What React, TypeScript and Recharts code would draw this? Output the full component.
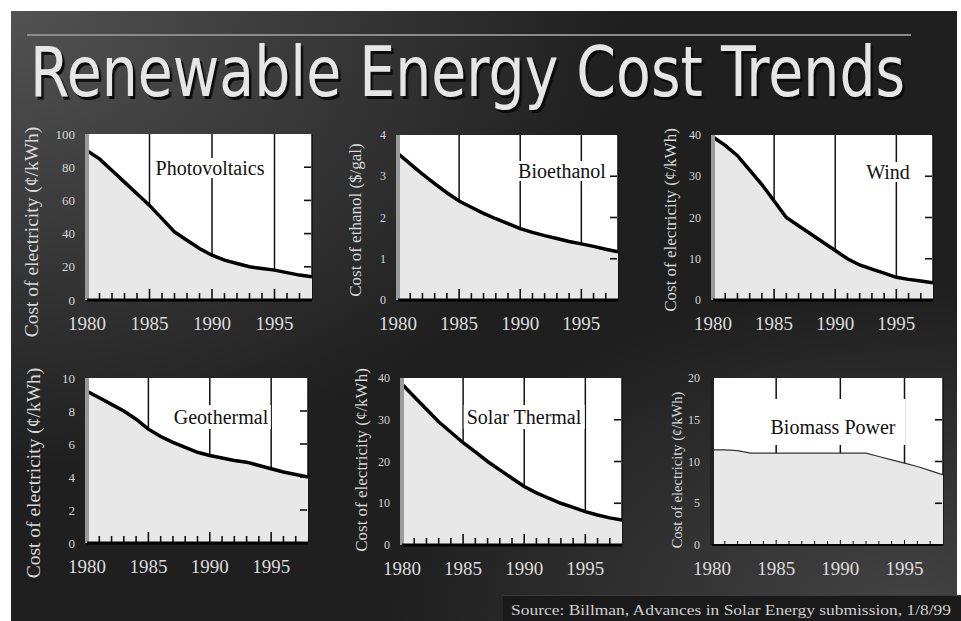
import { ComposedChart, Area, XAxis, YAxis, CartesianGrid } from "recharts";

const YEARS = [1980, 1981, 1982, 1983, 1984, 1985, 1986, 1987, 1988, 1989, 1990, 1991, 1992, 1993, 1994, 1995, 1996, 1997, 1998];
const MAJOR_YEARS = [1985, 1990, 1995];

const PV_COST = [90, 85, 78, 71, 64, 57, 49, 41, 36, 31, 27, 24, 22, 20, 19, 18, 16.5, 15, 14];
const ETHANOL_COST = [3.55, 3.3, 3.05, 2.82, 2.6, 2.4, 2.25, 2.1, 1.97, 1.85, 1.73, 1.64, 1.56, 1.49, 1.42, 1.36, 1.3, 1.23, 1.17];
const WIND_COST = [39.5, 37.5, 35, 31.5, 28, 24, 20, 18, 16, 14, 12, 10, 8.5, 7.5, 6.5, 5.5, 5, 4.6, 4.2];
const GEO_COST = [9.2, 8.8, 8.4, 8.0, 7.5, 6.9, 6.45, 6.1, 5.8, 5.5, 5.3, 5.15, 5.0, 4.9, 4.7, 4.5, 4.3, 4.15, 4.0];
const SOLAR_COST = [38.5, 35.5, 32.5, 29.5, 27, 24.5, 22.3, 20, 18, 16, 14, 12.5, 11.2, 10, 9, 8, 7.2, 6.5, 6];
const BIOMASS_COST = [11.4, 11.4, 11.3, 11.0, 11.0, 11.0, 11.0, 11.0, 11.0, 11.0, 11.0, 11.0, 11.0, 10.6, 10.2, 9.8, 9.4, 8.9, 8.4];

const ELEC_LABEL = "Cost of electricity (¢/kWh)";
const SERIF = '"Liberation Serif", "Times New Roman", serif';

interface PanelSpec {
  name: string;
  yLabel: string;
  values: number[];
  yMax: number;
  yTicks: number[];
  plot: { x: number; y: number; w: number; h: number };
  nameAt: [number, number];
  namePad: string;
  yLabelAt: [number, number];
  yLabelSize: number;
  tickSize: number;
  thin?: boolean;
}

const PANELS: PanelSpec[] = [
  {
    name: "Photovoltaics", yLabel: ELEC_LABEL, values: PV_COST, yMax: 100, yTicks: [0, 20, 40, 60, 80, 100],
    plot: { x: 87, y: 134, w: 225, h: 166 }, nameAt: [210, 168], namePad: "0 3px",
    yLabelAt: [32, 232], yLabelSize: 19.5, tickSize: 13,
  },
  {
    name: "Bioethanol", yLabel: "Cost of ethanol ($/gal)", values: ETHANOL_COST, yMax: 4, yTicks: [0, 1, 2, 3, 4],
    plot: { x: 398, y: 135, w: 220, h: 165 }, nameAt: [562, 171], namePad: "0 1px",
    yLabelAt: [355, 220], yLabelSize: 17, tickSize: 12,
  },
  {
    name: "Wind", yLabel: ELEC_LABEL, values: WIND_COST, yMax: 40, yTicks: [0, 10, 20, 30, 40],
    plot: { x: 713, y: 135, w: 220, h: 165 }, nameAt: [888, 172], namePad: "0 1px",
    yLabelAt: [670, 220], yLabelSize: 17, tickSize: 12,
  },
  {
    name: "Geothermal", yLabel: ELEC_LABEL, values: GEO_COST, yMax: 10, yTicks: [0, 2, 4, 6, 8, 10],
    plot: { x: 87, y: 378, w: 221, h: 165 }, nameAt: [221, 417], namePad: "2px 3px",
    yLabelAt: [34, 473], yLabelSize: 19.5, tickSize: 13,
  },
  {
    name: "Solar Thermal", yLabel: ELEC_LABEL, values: SOLAR_COST, yMax: 40, yTicks: [0, 10, 20, 30, 40],
    plot: { x: 402, y: 378, w: 220, h: 167 }, nameAt: [524, 417], namePad: "2px 3px",
    yLabelAt: [361, 460], yLabelSize: 17, tickSize: 12,
  },
  {
    name: "Biomass Power", yLabel: ELEC_LABEL, values: BIOMASS_COST, yMax: 20, yTicks: [0, 5, 10, 15, 20],
    plot: { x: 712, y: 378, w: 231, h: 167 }, nameAt: [833, 422], namePad: "18px 10px 8px",
    yLabelAt: [677, 470], yLabelSize: 14.5, tickSize: 12, thin: true,
  },
];

// bottom axis: inward year ticks + labels every 5 years
function YearTick(props: any) {
  const { x, y, payload, thin } = props;
  const v = payload.value as number;
  const major = v % 5 === 0;
  const len = thin ? (major ? 4 : 3) : major ? 10 : 6;
  return (
    <g>
      {v > 1980 && v < 1998 && (
        <line x1={x} x2={x} y1={y - 1} y2={y - 1 - len} stroke="#111" strokeWidth={thin ? 1 : 1.6} />
      )}
      {major && (
        <text x={x} y={y + 30} textAnchor="middle" fill="#dcdcdc" fontSize={19} fontFamily={SERIF}>
          {v}
        </text>
      )}
    </g>
  );
}

// left axis labels, plus the short inward tick on the right frame
function ValueTick(props: any) {
  const { x, y, payload, fontSize, plotW, yMax } = props;
  const v = payload.value as number;
  const rx = x + plotW;
  return (
    <g>
      <text x={x - 12} y={y} dy="0.35em" textAnchor="end" fill="#d6d6d6" fontSize={fontSize} fontFamily={SERIF}>
        {v}
      </text>
      {v > 0 && v < yMax && <line x1={rx - 1} x2={rx - 8} y1={y} y2={y} stroke="#111" strokeWidth={1.6} />}
    </g>
  );
}

function Panel({ spec }: { spec: PanelSpec }) {
  const { plot } = spec;
  const leftW = 46;
  const mTop = 10;
  const mRight = 4;
  const bottomH = 42;
  const data = YEARS.map((year, i) => ({ year, value: spec.values[i] }));
  const dom: [number, number] = [1980, 1998];

  return (
    <>
      <div style={{ position: "absolute", left: plot.x - leftW, top: plot.y - mTop }}>
        <ComposedChart
          width={plot.w + leftW + mRight}
          height={plot.h + mTop + bottomH}
          data={data}
          margin={{ top: mTop, right: mRight, left: 0, bottom: 0 }}
        >
          <CartesianGrid xAxisId="grid" horizontal={false} fill="#fff" stroke="#111" strokeWidth={1.5} strokeOpacity={1} />
          <XAxis xAxisId="grid" dataKey="year" type="number" domain={dom} ticks={MAJOR_YEARS} allowDataOverflow hide />
          <Area
            dataKey="value"
            type="linear"
            stroke={spec.thin ? "#333" : "#000"}
            strokeWidth={spec.thin ? 1.2 : 3.5}
            fill="#e8e8e8"
            fillOpacity={1}
            dot={false}
            activeDot={false}
            isAnimationActive={false}
          />
          <YAxis
            dataKey="value"
            type="number"
            domain={[0, spec.yMax]}
            ticks={spec.yTicks}
            interval={0}
            allowDataOverflow
            width={leftW}
            tickLine={false}
            tickSize={0}
            tickMargin={0}
            axisLine={{ stroke: spec.thin ? "#222" : "#9a9a9a", strokeWidth: 4 }}
            tick={(p: any) => <ValueTick {...p} fontSize={spec.tickSize} plotW={plot.w} yMax={spec.yMax} />}
          />
          <XAxis
            dataKey="year"
            type="number"
            domain={dom}
            ticks={YEARS}
            interval={0}
            allowDataOverflow
            height={bottomH}
            tickLine={false}
            tickSize={0}
            tickMargin={0}
            axisLine={{ stroke: "#000", strokeWidth: spec.thin ? 2 : 3 }}
            tick={(p: any) => <YearTick {...p} thin={spec.thin} />}
          />
          <XAxis
            xAxisId="top"
            orientation="top"
            type="number"
            domain={dom}
            allowDataOverflow
            height={0}
            tick={false}
            tickLine={false}
            axisLine={{ stroke: "#000", strokeWidth: 2 }}
          />
          <YAxis
            yAxisId="right"
            orientation="right"
            dataKey="value"
            width={0}
            type="number"
            domain={[0, spec.yMax]}
            allowDataOverflow
            tick={false}
            tickLine={false}
            axisLine={{ stroke: "#000", strokeWidth: 2 }}
          />
        </ComposedChart>
      </div>
      <div
        style={{
          position: "absolute",
          left: spec.nameAt[0],
          top: spec.nameAt[1],
          transform: "translate(-50%, -50%)",
          background: "#fff",
          padding: spec.namePad,
          fontFamily: SERIF,
          fontSize: 20,
          lineHeight: "20px",
          color: "#111",
          whiteSpace: "nowrap",
        }}
      >
        {spec.name}
      </div>
      <div
        style={{
          position: "absolute",
          left: spec.yLabelAt[0],
          top: spec.yLabelAt[1],
          transform: "translate(-50%, -50%) rotate(-90deg)",
          fontFamily: SERIF,
          fontSize: spec.yLabelSize,
          lineHeight: 1,
          color: "#d8d8d8",
          whiteSpace: "nowrap",
        }}
      >
        {spec.yLabel}
      </div>
    </>
  );
}

export default function App() {
  return (
    <div style={{ position: "absolute", left: 0, top: 0, width: 961, height: 621, background: "#fff", overflow: "hidden" }}>
      <div
        style={{
          position: "absolute",
          left: 11,
          top: 11,
          width: 946,
          height: 610,
          background:
            "radial-gradient(ellipse 65% 75% at 0% 0%, rgba(82,82,82,1) 0%, rgba(82,82,82,0) 100%), radial-gradient(ellipse 55% 55% at 95% 100%, rgba(68,68,68,1) 0%, rgba(68,68,68,0) 100%), #1f1f1f",
        }}
      />
      <svg width={961} height={125} style={{ position: "absolute", left: 0, top: 0 }}>
        <line x1={27} x2={911} y1={35} y2={35} stroke="#8a8a8a" strokeWidth={2} />
        <text
          transform="translate(30 96) scale(0.8 1)"
          x={0}
          y={0}
          fontSize={70}
          textLength={1094}
          lengthAdjust="spacingAndGlyphs"
          fontFamily='"Liberation Sans Narrow", "DejaVu Sans Condensed", "DejaVu Sans", sans-serif'
          fill="#e6e6e6"
          style={{ filter: "drop-shadow(3px 3px 0px #0c0c0c)" }}
        >
          Renewable Energy Cost Trends
        </text>
      </svg>
      {PANELS.map((p) => (
        <Panel key={p.name} spec={p} />
      ))}
      <div
        style={{
          position: "absolute",
          left: 503,
          top: 595,
          width: 458,
          height: 26,
          background: "#1a1a1a",
          borderTop: "1px solid #3a3a3a",
        }}
      >
        <svg width={458} height={26}>
          <text x={8} y={19} fontSize={14} textLength={440} lengthAdjust="spacingAndGlyphs" fontFamily={SERIF} fill="#cfcfcf">
            Source:  Billman, Advances in Solar Energy submission, 1/8/99
          </text>
        </svg>
      </div>
    </div>
  );
}
